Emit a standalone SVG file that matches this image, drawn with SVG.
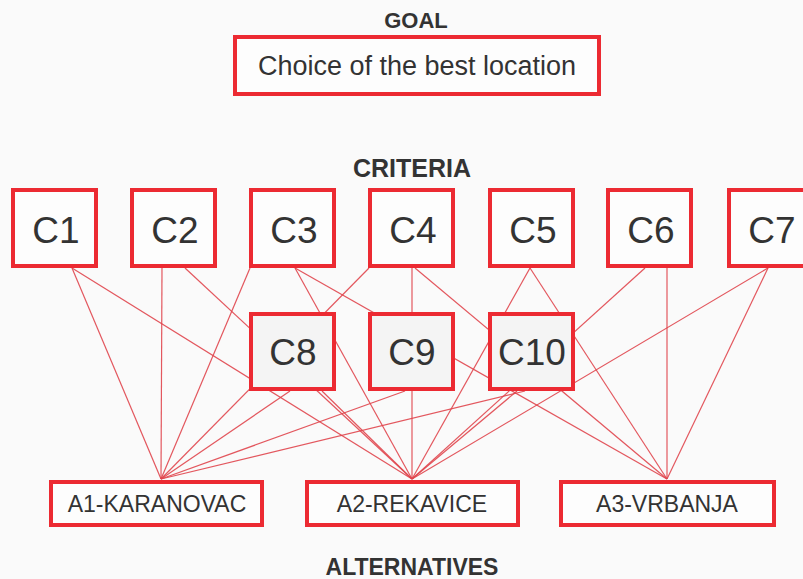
<svg xmlns="http://www.w3.org/2000/svg" width="803" height="579" viewBox="0 0 803 579">
<style>
.bg{fill:#fafafa}
.box{fill:#fdfdfd;stroke:#ec2a32;stroke-width:4}
.sub{fill:#f4f4f4;stroke:#ec2a32;stroke-width:4}
.lbl{font-family:"Liberation Sans",Arial,Helvetica,sans-serif;fill:#333;text-anchor:middle}
.big{font-size:37px}
.alt{font-size:23px}
.head{font-weight:bold}
.goal{font-size:27px}
#connectors line{stroke:#e0454d;stroke-width:1.2;stroke-opacity:0.9}
</style>
<rect class="bg" x="0" y="0" width="803" height="579"/>
<text class="lbl head" x="416" y="28" font-size="22">GOAL</text>
<text class="lbl head" x="412" y="177" font-size="25">CRITERIA</text>
<text class="lbl head" x="412" y="575" font-size="23">ALTERNATIVES</text>
<g id="connectors">
<line x1="72" y1="268" x2="161" y2="479"/>
<line x1="72" y1="268" x2="412" y2="479"/>
<line x1="162" y1="268" x2="161" y2="479"/>
<line x1="185" y1="268" x2="412" y2="479"/>
<line x1="250" y1="268" x2="161" y2="479"/>
<line x1="295" y1="268" x2="412" y2="479"/>
<line x1="295" y1="268" x2="667" y2="479"/>
<line x1="369" y1="268" x2="161" y2="479"/>
<line x1="412" y1="268" x2="412" y2="479"/>
<line x1="415" y1="268" x2="667" y2="479"/>
<line x1="530" y1="268" x2="412" y2="479"/>
<line x1="530" y1="268" x2="667" y2="479"/>
<line x1="645" y1="268" x2="412" y2="479"/>
<line x1="667" y1="268" x2="667" y2="479"/>
<line x1="768" y1="268" x2="412" y2="479"/>
<line x1="768" y1="268" x2="667" y2="479"/>
<line x1="290" y1="391" x2="161" y2="479"/>
<line x1="322" y1="391" x2="412" y2="479"/>
<line x1="405" y1="391" x2="161" y2="479"/>
<line x1="525" y1="391" x2="161" y2="479"/>
<line x1="517" y1="391" x2="412" y2="479"/>
</g>
<g id="goal"><rect class="box" x="235" y="37" width="364" height="57"/><text class="lbl goal" x="417" y="75">Choice of the best location</text></g>
<g id="c1"><rect class="box" x="13" y="190" width="83" height="76"/><text class="lbl big" x="56" y="243">C1</text></g>
<g id="c2"><rect class="box" x="132" y="190" width="83" height="76"/><text class="lbl big" x="175" y="243">C2</text></g>
<g id="c3"><rect class="box" x="251" y="190" width="83" height="76"/><text class="lbl big" x="294" y="243">C3</text></g>
<g id="c4"><rect class="box" x="370" y="190" width="83" height="76"/><text class="lbl big" x="413" y="243">C4</text></g>
<g id="c5"><rect class="box" x="490" y="190" width="83" height="76"/><text class="lbl big" x="533" y="243">C5</text></g>
<g id="c6"><rect class="box" x="608" y="190" width="83" height="76"/><text class="lbl big" x="651" y="243">C6</text></g>
<g id="c7"><rect class="box" x="729" y="190" width="83" height="76"/><text class="lbl big" x="772" y="243">C7</text></g>
<g id="c8"><rect class="sub" x="251" y="314" width="83" height="75"/><text class="lbl big" x="293" y="365">C8</text></g>
<g id="c9"><rect class="sub" x="370" y="314" width="83" height="75"/><text class="lbl big" x="412" y="365">C9</text></g>
<g id="c10"><rect class="sub" x="490" y="314" width="83" height="75"/><text class="lbl big" x="532" y="365">C10</text></g>
<g id="a1"><rect class="box" x="51" y="482" width="211" height="43"/><text class="lbl alt" x="157" y="512">A1-KARANOVAC</text></g>
<g id="a2"><rect class="box" x="307" y="482" width="211" height="43"/><text class="lbl alt" x="412" y="512">A2-REKAVICE</text></g>
<g id="a3"><rect class="box" x="561" y="482" width="213" height="43"/><text class="lbl alt" x="667" y="512">A3-VRBANJA</text></g>
</svg>
